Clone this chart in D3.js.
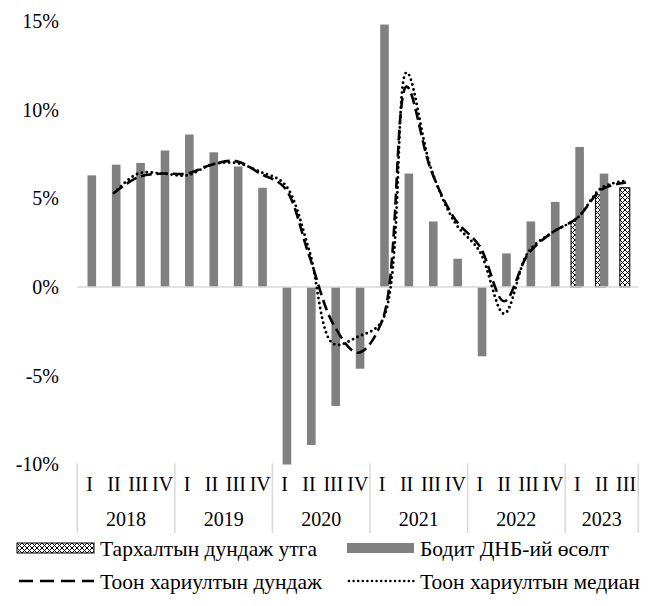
<!DOCTYPE html>
<html>
<head>
<meta charset="utf-8">
<script src="https://cdn.jsdelivr.net/npm/d3@7"></script>
<style>
  body { margin: 0; background: #fff; }
  text { font-family: "Liberation Serif", "Times New Roman", serif; fill: #000; }
</style>
</head>
<body>
<div id="chart"></div>
<script>
var years = ["2018", "2019", "2020", "2021", "2022", "2023"];
var quarters = ["I", "II", "III", "IV"];
var yTicks = [-10, -5, 0, 5, 10, 15];

// Бодит ДНБ-ий өсөлт
var gdp = [6.3, 6.9, 7.0, 7.7, 8.6, 7.6, 6.8, 5.6, -10.0, -8.9, -6.7, -4.6,
           14.8, 6.4, 3.7, 1.6, -3.9, 1.9, 3.7, 4.8, 7.9, 6.4, null];
// Тархалтын дундаж утга
var distMean = [null, null, null, null, null, null, null, null, null, null, null, null,
                null, null, null, null, null, null, null, null, 3.7, 5.2, 5.6];
// Тоон хариултын дундаж
var surveyMean = [null, 5.3, 6.2, 6.4, 6.4, 6.9, 7.1, 6.4, 5.6, 1.8, -2.1, -3.7,
                  -1.9, 11.3, 6.6, 3.8, 2.3, -0.8, 1.9, 3.1, 3.9, 5.5, 5.9];
// Тоон хариултын медиан
var surveyMedian = [null, 5.3, 6.4, 6.4, 6.3, 6.9, 7.0, 6.5, 5.8, 2.1, -3.2, -2.8,
                    -1.9, 12.1, 6.7, 3.6, 2.0, -1.5, 2.0, 3.1, 3.9, 5.6, 6.0];

var w = 653, h = 606;
var plotL = 77.3, plotR = 638.3, plotT = 21, plotB = 464.5;
var fs = "20px";

// categories: year + quarter, 2023 only up to III
var cats = [];
years.forEach(function(yr, yi) {
    var nq = (yi == years.length - 1) ? 3 : 4;
    for (var q = 0; q < nq; q++) cats.push({ year: yr, q: quarters[q], i: cats.length });
});

var svg = d3.select("#chart").append("svg")
    .attr("width", w)
    .attr("height", h);

var defs = svg.append("defs");
var pat = defs.append("pattern")
    .attr("id", "checker")
    .attr("patternUnits", "userSpaceOnUse")
    .attr("width", 5)
    .attr("height", 5);
pat.append("rect").attr("width", 5).attr("height", 5).attr("fill", "#fff");
pat.append("path").attr("d", "M0,0L5,5M5,0L0,5").attr("stroke", "#000").attr("stroke-width", 1);

var x = d3.scaleBand()
    .domain(cats.map(function(d) { return d.i; }))
    .range([plotL, plotR])
    .padding(0);

var y = d3.scaleLinear()
    .domain([-10, 15])
    .range([plotB, plotT]);

var bw = x.bandwidth();
var cx = function(i) { return x(i) + bw / 2; };

// y axis labels
var yAxis = d3.axisLeft(y)
    .tickValues(yTicks)
    .tickSize(0)
    .tickPadding(0)
    .tickFormat(function(d) { return d + "%"; });

svg.append("g")
    .attr("transform", "translate(59,0)")
    .call(yAxis)
    .call(function(g) { g.select(".domain").remove(); })
    .selectAll("text")
    .style("font-family", "Liberation Serif")
    .style("font-size", fs)
    .attr("fill", "#000");

// distribution mean (patterned), behind
svg.append("g").selectAll("rect")
    .data(cats.filter(function(d) { return distMean[d.i] != null; }))
    .enter()
    .append("rect")
    .attr("x", function(d) { return cx(d.i) - 6.3; })
    .attr("width", 10)
    .attr("y", function(d) { return y(Math.max(0, distMean[d.i])); })
    .attr("height", function(d) { return Math.abs(y(distMean[d.i]) - y(0)); })
    .attr("fill", "url(#checker)")
    .attr("stroke", "#000")
    .attr("stroke-width", 1);

// real GDP growth
svg.append("g").selectAll("rect")
    .data(cats.filter(function(d) { return gdp[d.i] != null; }))
    .enter()
    .append("rect")
    .attr("x", function(d) { return cx(d.i) - 2; })
    .attr("width", 8.6)
    .attr("y", function(d) { return y(Math.max(0, gdp[d.i])); })
    .attr("height", function(d) { return Math.abs(y(gdp[d.i]) - y(0)); })
    .attr("fill", "#808080");

// zero line
svg.append("line")
    .attr("x1", plotL).attr("x2", plotR)
    .attr("y1", y(0)).attr("y2", y(0))
    .attr("stroke", "#d9d9d9")
    .attr("stroke-width", 1.5);

// x axis: quarter labels
var xAxis = d3.axisBottom(x)
    .tickSize(0)
    .tickPadding(0)
    .tickFormat(function(i) { return cats[i].q; });

svg.append("g")
    .attr("transform", "translate(0,477)")
    .call(xAxis)
    .call(function(g) { g.select(".domain").remove(); })
    .selectAll("text")
    .style("font-family", "Liberation Serif")
    .style("font-size", fs)
    .attr("fill", "#000");

// year separators and labels
var yearStarts = [];
cats.forEach(function(d) { if (d.q == "I") yearStarts.push(d.i); });
var sepX = yearStarts.map(function(i) { return x(i); }).concat([plotR]);

svg.append("g").selectAll("line")
    .data(sepX)
    .enter()
    .append("line")
    .attr("x1", function(d) { return d; })
    .attr("x2", function(d) { return d; })
    .attr("y1", plotB - 1)
    .attr("y2", 533)
    .attr("stroke", "#d9d9d9")
    .attr("stroke-width", 1.5);

svg.append("g").selectAll("text")
    .data(years)
    .enter()
    .append("text")
    .attr("x", function(d, k) { return (sepX[k] + sepX[k + 1]) / 2; })
    .attr("y", 526)
    .attr("text-anchor", "middle")
    .style("font-size", fs)
    .text(function(d) { return d; });

// lines
var line = d3.line()
    .x(function(d) { return cx(d.i); })
    .y(function(d) { return y(d.v); })
    .curve(d3.curveCatmullRom.alpha(0.5));

function series(arr) {
    return cats.map(function(d) { return { i: d.i, v: arr[d.i] }; })
        .filter(function(d) { return d.v != null; });
}

svg.append("path")
    .datum(series(surveyMean))
    .attr("d", line)
    .attr("fill", "none")
    .attr("stroke", "#000")
    .attr("stroke-width", 2.6)
    .attr("stroke-dasharray", "11,5");

svg.append("path")
    .datum(series(surveyMedian))
    .attr("d", line)
    .attr("fill", "none")
    .attr("stroke", "#000")
    .attr("stroke-width", 2.9)
    .attr("stroke-linecap", "round")
    .attr("stroke-dasharray", "0,5");

// legend
var legend = [
    { label: "Тархалтын дундаж утга", type: "pattern", x: 17, y: 548 },
    { label: "Бодит ДНБ-ий өсөлт", type: "bar", x: 347, y: 548 },
    { label: "Тоон хариултын дундаж", type: "dash", x: 17, y: 581 },
    { label: "Тоон хариултын медиан", type: "dot", x: 347, y: 581 }
];

var lg = svg.append("g").selectAll("g")
    .data(legend)
    .enter()
    .append("g")
    .attr("transform", function(d) { return "translate(" + d.x + "," + d.y + ")"; });

lg.each(function(d) {
    var g = d3.select(this);
    if (d.type == "pattern") {
        g.append("rect").attr("x", 0).attr("y", -5).attr("width", 77).attr("height", 10)
            .attr("fill", "url(#checker)").attr("stroke", "#000").attr("stroke-width", 1);
    } else if (d.type == "bar") {
        g.append("rect").attr("x", 0).attr("y", -5).attr("width", 67).attr("height", 10)
            .attr("fill", "#808080");
    } else if (d.type == "dash") {
        g.append("line").attr("x1", 2).attr("x2", 77).attr("y1", 0).attr("y2", 0)
            .attr("stroke", "#000").attr("stroke-width", 2.6).attr("stroke-dasharray", "14,7");
    } else {
        g.append("line").attr("x1", 2).attr("x2", 70).attr("y1", 0).attr("y2", 0)
            .attr("stroke", "#000").attr("stroke-width", 2.6).attr("stroke-linecap", "round")
            .attr("stroke-dasharray", "0,4.6");
    }
    g.append("text")
        .attr("x", d.type == "pattern" || d.type == "dash" ? 83 : 73)
        .attr("y", 0)
        .attr("dy", "0.35em")
        .style("font-size", "21.5px")
        .text(d.label);
});
</script>
</body>
</html>
